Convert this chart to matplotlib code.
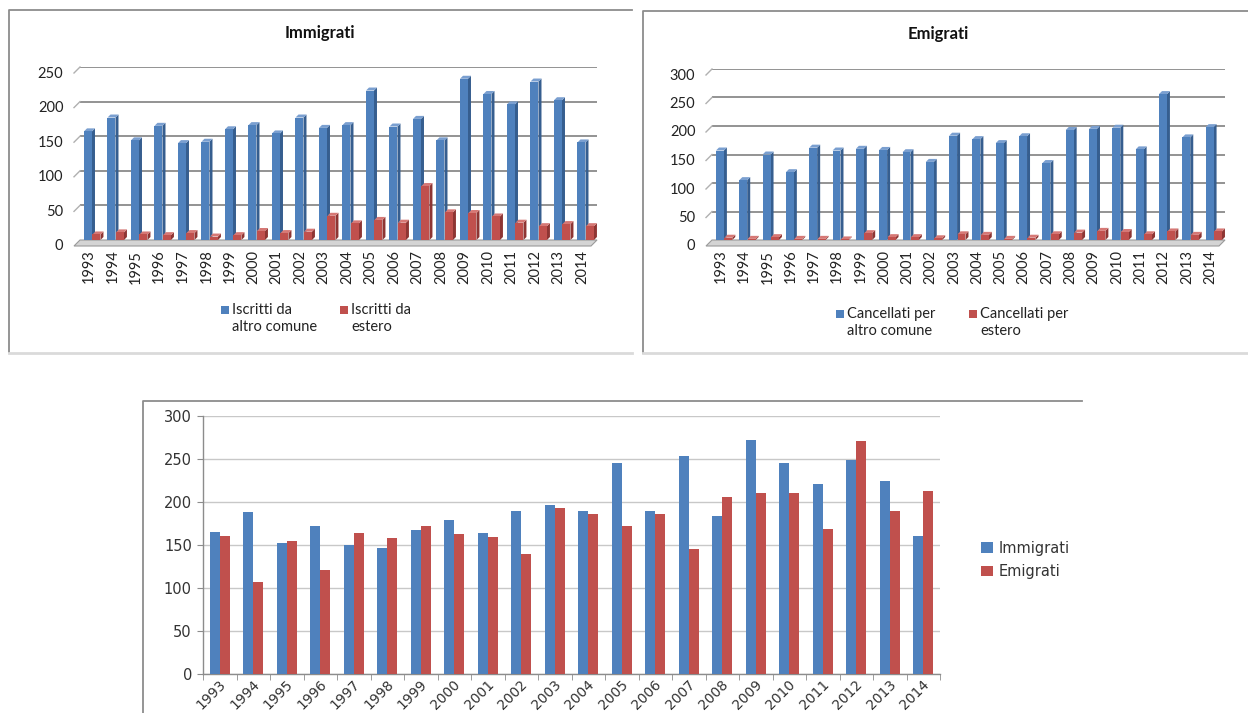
import matplotlib
matplotlib.use("Agg")
import matplotlib.pyplot as plt
from matplotlib.lines import Line2D
from matplotlib.patches import Polygon, Rectangle
from matplotlib.transforms import ScaledTranslation

years = [str(y) for y in range(1993, 2015)]

iscritti_altro_comune = [157, 177, 144, 165, 140, 142, 160, 166, 154, 177, 162,
                         166, 216, 164, 175, 144, 233, 211, 196, 229, 202, 141]
iscritti_estero = [8, 11, 8, 7, 10, 5, 7, 13, 10, 12, 35,
                   24, 29, 25, 78, 40, 39, 34, 25, 20, 23, 20]

cancellati_altro_comune = [157, 105, 150, 119, 162, 157, 160, 158, 154, 137, 183,
                           177, 170, 182, 135, 193, 195, 197, 159, 256, 180, 198]
cancellati_estero = [4, 2, 5, 2, 2, 1, 12, 5, 5, 3, 10,
                     9, 2, 4, 10, 13, 16, 14, 10, 15, 9, 15]

immigrati = [a + b for a, b in zip(iscritti_altro_comune, iscritti_estero)]
emigrati = [a + b for a, b in zip(cancellati_altro_comune, cancellati_estero)]

W, H = 1248, 713
BLUE, RED = "#4F81BD", "#C0504D"
BLUE_SIDE, RED_SIDE = "#365E8F", "#8E3533"
BLUE_TOP, RED_TOP = "#7A9FD0", "#D67875"

fig = plt.figure(figsize=(W / 100, H / 100), dpi=100)
fig.patch.set_facecolor("white")


def px_axes(left, right, top, bottom):
    """Axes placed by pixel edges (origin at the top-left of the figure)."""
    return fig.add_axes([left / W, 1 - bottom / H, (right - left) / W, (bottom - top) / H])


def fig_line(xs, ys, color, lw):
    fig.add_artist(Line2D([x / W for x in xs], [1 - y / H for y in ys],
                          color=color, lw=lw, transform=fig.transFigure))


def legend_entry(x, y, color, text, size=10.5):
    """Square key aligned with the first line of a (possibly two-line) label."""
    s = 8
    fig.add_artist(Rectangle((x / W, 1 - (y - 2 + s / 2) / H), s / W, s / H,
                             facecolor=color, edgecolor="none",
                             transform=fig.transFigure))
    fig.text((x + s + 3) / W, 1 - (y - 9) / H, text, ha="left", va="top",
             fontsize=size, family="Lato", color="#222222", linespacing=1.25)


def chart_3d(ax, a, b, ymax, step, wpx, hpx):
    n = len(a)
    ax.set_xlim(-0.5, n - 0.5)
    ax.set_ylim(0, ymax)
    ax.set_facecolor("none")
    for s in ax.spines.values():
        s.set_visible(False)

    px_cat = wpx / n
    px_val = hpx / ymax
    # back wall offset and bar depth, expressed in data units
    wall_dx, wall_dy = 6 / px_cat, 6 / px_val
    bar_dx, bar_dy = 3 / px_cat, 3 / px_val

    ticks = list(range(0, ymax + 1, step))
    for v in ticks[1:]:
        ax.plot([-0.5, n - 0.5], [v, v], color="#8A8A8A", lw=1.3, zorder=1)
        ax.plot([-0.5 - wall_dx, -0.5], [v - wall_dy, v], color="#B0B0B0",
                lw=1.0, clip_on=False, zorder=1)
    ax.add_patch(Polygon([(-0.5 - wall_dx, -wall_dy), (n - 0.5 - wall_dx, -wall_dy),
                          (n - 0.5, 0), (-0.5, 0)], closed=True,
                         facecolor="#D4D4D4", edgecolor="#9A9A9A", lw=0.8,
                         clip_on=False, zorder=2))

    xs = list(range(n))
    bw = 0.34
    left_blue = [x - 0.33 for x in xs]
    left_red = [x + 0.03 for x in xs]
    for lefts, vals, face, side, top in ((left_blue, a, BLUE, BLUE_SIDE, BLUE_TOP),
                                          (left_red, b, RED, RED_SIDE, RED_TOP)):
        ax.bar(lefts, vals, width=bw, align="edge", color=face, lw=0, zorder=4)
        for x0, v in zip(lefts, vals):
            x1 = x0 + bw
            ax.add_patch(Polygon([(x1, 0), (x1, v), (x1 + bar_dx, v + bar_dy),
                                  (x1 + bar_dx, bar_dy)], closed=True,
                                 facecolor=side, lw=0, zorder=3.9))
            ax.add_patch(Polygon([(x0, v), (x1, v), (x1 + bar_dx, v + bar_dy),
                                  (x0 + bar_dx, v + bar_dy)], closed=True,
                                 facecolor=top, lw=0, zorder=3.9))

    ax.set_yticks(ticks)
    ax.set_yticklabels([str(t) for t in ticks], fontsize=10.5, color="#222222",
                       family="Lato")
    ax.tick_params(axis="y", length=0, pad=12)
    ylab_shift = ScaledTranslation(0, -5 / 100, fig.dpi_scale_trans)
    for lbl in ax.get_yticklabels():
        lbl.set_transform(lbl.get_transform() + ylab_shift)

    ax.set_xticks(xs)
    ax.set_xticklabels(years, rotation=90, fontsize=10.5, color="#222222",
                       family="Lato", va="top", ha="center")
    ax.tick_params(axis="x", length=0, pad=7)
    xlab_shift = ScaledTranslation(-3 / 100, 0, fig.dpi_scale_trans)
    for lbl in ax.get_xticklabels():
        lbl.set_transform(lbl.get_transform() + xlab_shift)
    return ax


# --- Immigrati panel -------------------------------------------------------
ax1 = px_axes(80, 597, 67, 240)
chart_3d(ax1, iscritti_altro_comune, iscritti_estero, 250, 50, 517, 173)
fig.text(320 / W, 1 - 33 / H, "Immigrati", ha="center", va="center",
         fontsize=12, fontweight="bold", family="Lato", color="#111111")
legend_entry(221, 312, BLUE, "Iscritti da\naltro comune")
legend_entry(340, 312, RED, "Iscritti da\nestero")

# --- Emigrati panel --------------------------------------------------------
ax2 = px_axes(712, 1225, 69, 240)
chart_3d(ax2, cancellati_altro_comune, cancellati_estero, 300, 50, 513, 171)
fig.text(938 / W, 1 - 34 / H, "Emigrati", ha="center", va="center",
         fontsize=12, fontweight="bold", family="Lato", color="#111111")
legend_entry(836, 316, BLUE, "Cancellati per\naltro comune")
legend_entry(969, 316, RED, "Cancellati per\nestero")

# --- Immigrati vs Emigrati -------------------------------------------------
ax3 = px_axes(203, 940, 416, 674)
xs = range(len(years))
ax3.bar([x - 0.15 for x in xs], immigrati, width=0.3, color=BLUE, lw=0,
        label="Immigrati", zorder=3)
ax3.bar([x + 0.15 for x in xs], emigrati, width=0.3, color=RED, lw=0,
        label="Emigrati", zorder=3)
ax3.set_xlim(-0.5, len(years) - 0.5)
ax3.set_ylim(0, 300)
ax3.set_yticks(range(0, 301, 50))
ax3.yaxis.grid(True, color="#C8C8C8", lw=1.0, zorder=0)
ax3.set_axisbelow(True)
for s in ("top", "right"):
    ax3.spines[s].set_visible(False)
for s in ("left", "bottom"):
    ax3.spines[s].set_color("#8C8C8C")
    ax3.spines[s].set_linewidth(1.0)
ax3.tick_params(axis="y", length=4, color="#8C8C8C", labelsize=10.5,
                labelcolor="#333333", pad=4)
ax3.set_xticks(list(xs))
ax3.set_xticklabels(years, rotation=45, ha="right", va="center",
                    rotation_mode="anchor", fontsize=10, color="#333333")
ax3.set_xticks([x + 0.5 for x in range(-1, len(years))], minor=True)
ax3.tick_params(axis="x", which="major", length=0, pad=6)
ax3.tick_params(axis="x", which="minor", length=4, color="#8C8C8C")
xl_shift = ScaledTranslation(4 / 100, 0, fig.dpi_scale_trans)
for lbl in ax3.get_xticklabels():
    lbl.set_transform(lbl.get_transform() + xl_shift)
ax3.legend(loc="center left", bbox_to_anchor=(968 / W, 1 - 560 / H),
           bbox_transform=fig.transFigure, frameon=False, fontsize=10.5,
           handlelength=0.8, handleheight=0.7, handletextpad=0.4,
           labelspacing=0.6, labelcolor="#333333")

# --- panel frames ----------------------------------------------------------
fig_line([632, 9, 9], [10, 10, 352], "#8C8C8C", 1.3)
fig_line([9, 632], [353, 353], "#DADADA", 2.0)
fig_line([643, 643, 1248], [353, 11, 11], "#8C8C8C", 1.3)
fig_line([643, 1248], [353, 353], "#DADADA", 2.0)
fig_line([143, 143, 1082], [713, 401, 401], "#8C8C8C", 1.3)

fig.savefig("out.png", dpi=100, facecolor="white")
